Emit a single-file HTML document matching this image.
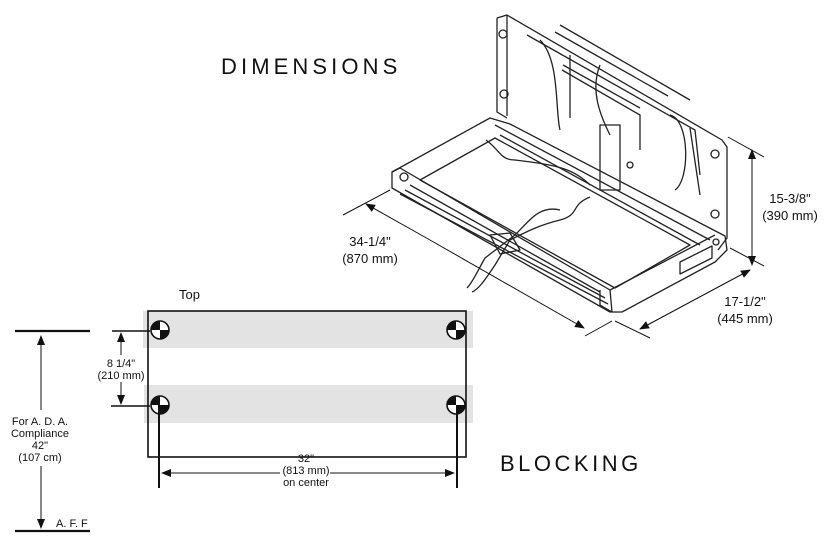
<!DOCTYPE html>
<html><head><meta charset="utf-8"><style>
html,body{margin:0;padding:0;background:#fff;}
svg{display:block;}
text{font-family:"Liberation Sans",sans-serif;fill:#111;}
</style></head><body>
<svg width="829" height="538" viewBox="0 0 829 538" xmlns="http://www.w3.org/2000/svg">
<defs>
<marker id="a" markerWidth="10" markerHeight="8" refX="9" refY="4" orient="auto" markerUnits="userSpaceOnUse"><path d="M0,0 L10,4 L0,8 z" fill="#111"/></marker>
</defs>
<text x="221" y="74" font-size="22" letter-spacing="4.1">DIMENSIONS</text>
<text x="500" y="471" font-size="22" letter-spacing="3.5">BLOCKING</text>

<text x="179" y="299" font-size="13">Top</text>
<rect x="143" y="311" width="330" height="37" fill="#e3e3e3"/>
<rect x="144" y="385" width="329" height="38" fill="#e3e3e3"/>
<rect x="148" y="311" width="318" height="146" fill="none" stroke="#111" stroke-width="1.6"/>
<g stroke="#111" stroke-width="1.6">
<circle cx="160" cy="330" r="9" fill="#fff"/><circle cx="160" cy="405" r="9" fill="#fff"/>
<circle cx="456" cy="330" r="9" fill="#fff"/><circle cx="456" cy="405" r="9" fill="#fff"/>
</g>
<g fill="#111">
<path d="M160,321 A9,9 0 0 0 151,330 L160,330Z"/><path d="M160,339 A9,9 0 0 0 169,330 L160,330Z"/>
<path d="M160,396 A9,9 0 0 0 151,405 L160,405Z"/><path d="M160,414 A9,9 0 0 0 169,405 L160,405Z"/>
<path d="M456,321 A9,9 0 0 0 447,330 L456,330Z"/><path d="M456,339 A9,9 0 0 0 465,330 L456,330Z"/>
<path d="M456,396 A9,9 0 0 0 447,405 L456,405Z"/><path d="M456,414 A9,9 0 0 0 465,405 L456,405Z"/>
</g>
<g stroke="#111">
<line x1="159" y1="405" x2="159" y2="488" stroke-width="2"/>
<line x1="457" y1="405" x2="457" y2="488" stroke-width="2"/>
<line x1="280" y1="473" x2="162" y2="473" stroke-width="1" marker-end="url(#a)"/>
<line x1="330" y1="473" x2="454" y2="473" stroke-width="1" marker-end="url(#a)"/>
<line x1="15" y1="331" x2="90" y2="331" stroke-width="2.2"/>
<line x1="15" y1="531" x2="90" y2="531" stroke-width="2.2"/>
<line x1="41" y1="410" x2="41" y2="336" stroke-width="1" marker-end="url(#a)"/>
<line x1="41" y1="466" x2="41" y2="528" stroke-width="1" marker-end="url(#a)"/>
<line x1="112" y1="331" x2="150" y2="331" stroke-width="1.6"/>
<line x1="111" y1="406" x2="150" y2="406" stroke-width="1.6"/>
<line x1="121" y1="355" x2="121" y2="333" stroke-width="1" marker-end="url(#a)"/>
<line x1="121" y1="382" x2="121" y2="404" stroke-width="1" marker-end="url(#a)"/>
</g>
<g font-size="11" text-anchor="middle">
<text x="306" y="462">32"</text><text x="306" y="474">(813 mm)</text><text x="306" y="486">on center</text>
<text x="40" y="425">For A. D. A.</text><text x="40" y="437">Compliance</text><text x="40" y="449">42"</text><text x="40" y="461">(107 cm)</text>
<text x="121" y="367">8 1/4"</text><text x="121" y="379">(210 mm)</text>
</g>
<text x="56" y="527" font-size="11">A. F. F</text>

<g fill="none" stroke="#222" stroke-width="1.3" stroke-linejoin="round">
<path d="M497,18 L507,15 L722,140 L727,147 L727,238 L718,250"/>
<path d="M497,18 L497,112 L507,118"/>
<path d="M507,15 L507,116"/>
<path d="M527,35 L695,130 L700,175"/>
<path d="M540,40 C560,60 555,110 560,130"/>
<path d="M570,55 L570,118 M600,65 C590,90 600,115 610,135"/>
<path d="M560,25 L690,100 M555,32 L668,96"/>
<path d="M562,70 L640,115 L640,150 M563,65 L640,108"/>
<path d="M600,125 L620,125 L620,190 L600,190 Z"/>
<path d="M670,115 C690,120 690,180 675,190 M690,128 L700,195"/>
<circle cx="503" cy="34" r="4"/><circle cx="504" cy="94" r="4"/><circle cx="715" cy="154" r="4"/><circle cx="715" cy="214" r="4"/><circle cx="630" cy="165" r="3"/>
<path d="M392,172 L490,118 L510,124 L725,236 L727,250 L715,262 L622,312 L610,312 L392,188 Z"/>
<path d="M392,172 L400,168 L610,290 L612,312"/>
<path d="M610,290 L715,235"/>
<path d="M420,180 L495,138 L690,245 L615,288 Z"/>
<path d="M410,185 L600,292 M405,190 L605,298 M400,194 L608,304"/>
<path d="M495,125 L710,240"/>
<path d="M500,135 L700,245"/>
<path d="M680,262 L712,246 L712,258 L680,274 Z"/>
<path d="M600,290 L600,305 L612,312"/>
<circle cx="404" cy="177" r="4"/><circle cx="716" cy="242" r="3"/>
<path d="M486,140 C500,150 500,160 515,160 C560,165 575,170 590,185"/>
<path d="M590,197 C570,205 580,215 560,220 C540,225 530,230 510,240 L495,265 C485,280 478,290 472,292"/>
<path d="M560,210 C540,205 530,220 515,235 L485,258 C478,270 473,282 467,288"/>
<path d="M490,235 L510,233 L520,250 L500,254 Z"/>
</g>
<g stroke="#111" stroke-width="1">
<line x1="343" y1="215" x2="390" y2="190"/>
<line x1="585" y1="336" x2="612" y2="321"/>
<line x1="615" y1="321" x2="650" y2="338"/>
<line x1="730" y1="248" x2="764" y2="266"/>
<line x1="728" y1="137" x2="764" y2="157"/>
<line x1="430" y1="240" x2="366" y2="204" marker-end="url(#a)"/>
<line x1="430" y1="240" x2="584" y2="328" marker-end="url(#a)"/>
<line x1="694" y1="300" x2="640" y2="329" marker-end="url(#a)"/>
<line x1="694" y1="300" x2="750" y2="270" marker-end="url(#a)"/>
<line x1="752" y1="200" x2="752" y2="150" marker-end="url(#a)"/>
<line x1="752" y1="200" x2="752" y2="265" marker-end="url(#a)"/>
</g>
<g font-size="13" text-anchor="middle">
<text x="370" y="246">34-1/4"</text><text x="370" y="263">(870 mm)</text>
<text x="790" y="203">15-3/8"</text><text x="790" y="220">(390 mm)</text>
<text x="745" y="306">17-1/2"</text><text x="745" y="323">(445 mm)</text>
</g>
</svg>
</body></html>
